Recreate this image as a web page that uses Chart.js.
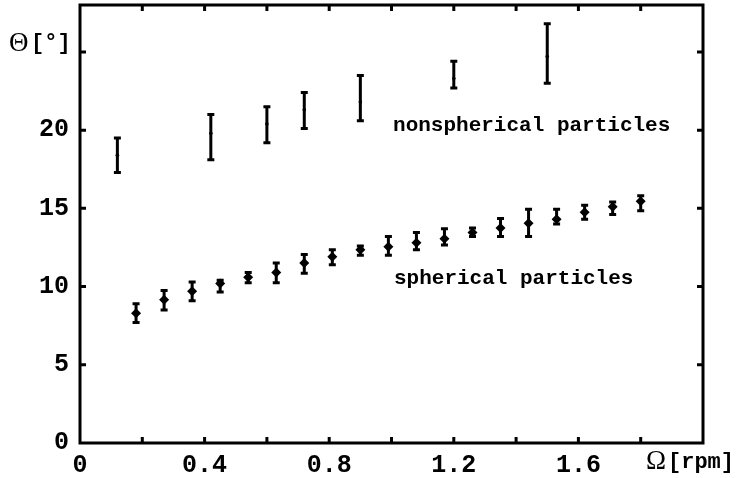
<!DOCTYPE html>
<html>
<head>
<meta charset="utf-8">
<script src="https://cdn.jsdelivr.net/npm/chart.js@4.4.0/dist/chart.umd.min.js"></script>
<style>
  html, body { margin: 0; padding: 0; background: #fff; }
  #wrap { width: 738px; height: 478px; }
</style>
</head>
<body>
<div id="wrap"><canvas id="chart"></canvas></div>
<script>
// nonspherical particles: rotation rate, angle, error bar ends
const nsOmega = [0.12, 0.42, 0.60, 0.72, 0.90, 1.20, 1.50];
const nsTheta = [18.4, 19.8, 20.4, 21.3, 21.8, 23.3, 24.7];
const nsLow   = [17.3, 18.1, 19.2, 20.1, 20.6, 22.7, 23.0];
const nsHigh  = [19.5, 21.0, 21.5, 22.4, 23.5, 24.4, 26.8];

// spherical particles
const spOmega = [0.18, 0.27, 0.36, 0.45, 0.54, 0.63, 0.72, 0.81, 0.90, 0.99,
                 1.08, 1.17, 1.26, 1.35, 1.44, 1.53, 1.62, 1.71, 1.80];
const spTheta = [8.3, 9.15, 9.7, 10.2, 10.6, 10.9, 11.5, 11.9, 12.35, 12.55,
                 12.8, 13.05, 13.45, 13.75, 14.05, 14.3, 14.75, 15.1, 15.45];
const spLow   = [7.7, 8.5, 9.1, 9.65, 10.25, 10.25, 10.85, 11.4, 12.0, 12.0,
                 12.35, 12.65, 13.2, 13.2, 13.2, 14.0, 14.3, 14.6, 14.85];
const spHigh  = [8.9, 9.75, 10.3, 10.4, 10.9, 11.5, 12.05, 12.35, 12.6, 13.2,
                 13.45, 13.7, 13.75, 14.35, 14.95, 14.95, 15.2, 15.4, 15.8];

// axis ticks
const xLabelled = [0, 0.4, 0.8, 1.2, 1.6];
const yLabelled = [0, 5, 10, 15, 20];

// curve labels (in data units)
const curveLabels = [
  { text: 'nonspherical particles', x: 1.005, y: 20.3 },
  { text: 'spherical particles', x: 1.008, y: 10.5 }
];

const MONO = '"Liberation Mono", "Courier New", monospace';

function toPoints(xs, ys) {
  return xs.map((x, i) => ({ x: x, y: ys[i] }));
}

const errorBars = [
  { low: nsLow, high: nsHigh, xs: nsOmega, cap: 3.5 },
  { low: spLow, high: spHigh, xs: spOmega, cap: 3.5 }
];

// vertical error bars with caps
const errorBarPlugin = {
  id: 'errorBars',
  beforeDatasetsDraw(chart) {
    const ctx = chart.ctx;
    const xs = chart.scales.x, ys = chart.scales.y;
    ctx.save();
    ctx.strokeStyle = '#000';
    ctx.lineWidth = 3;
    errorBars.forEach(eb => {
      eb.xs.forEach((xv, i) => {
        const px = xs.getPixelForValue(xv);
        const top = ys.getPixelForValue(eb.high[i]);
        const bot = ys.getPixelForValue(eb.low[i]);
        ctx.beginPath();
        ctx.moveTo(px, top); ctx.lineTo(px, bot);
        ctx.moveTo(px - eb.cap, top); ctx.lineTo(px + eb.cap, top);
        ctx.moveTo(px - eb.cap, bot); ctx.lineTo(px + eb.cap, bot);
        ctx.stroke();
      });
    });
    ctx.restore();
  }
};

// box frame with inward ticks on all four sides, plus axis titles and curve labels
const framePlugin = {
  id: 'frame',
  afterDraw(chart) {
    const ctx = chart.ctx;
    const a = chart.chartArea;
    const xs = chart.scales.x, ys = chart.scales.y;
    ctx.save();
    ctx.strokeStyle = '#000';
    ctx.lineWidth = 3;
    ctx.strokeRect(a.left, a.top, a.right - a.left, a.bottom - a.top);
    const tl = 6;
    ctx.beginPath();
    xs.ticks.forEach(t => {
      if (t.value <= xs.min + 1e-6 || t.value >= xs.max - 1e-6) return;
      const px = xs.getPixelForValue(t.value);
      ctx.moveTo(px, a.bottom); ctx.lineTo(px, a.bottom - tl);
      ctx.moveTo(px, a.top); ctx.lineTo(px, a.top + tl);
    });
    ys.ticks.forEach(t => {
      if (t.value <= ys.min + 1e-6 || t.value >= ys.max - 1e-6) return;
      const py = ys.getPixelForValue(t.value);
      ctx.moveTo(a.left, py); ctx.lineTo(a.left + tl, py);
      ctx.moveTo(a.right, py); ctx.lineTo(a.right - tl, py);
    });
    ctx.stroke();

    ctx.fillStyle = '#000';
    ctx.textBaseline = 'middle';
    ctx.textAlign = 'left';
    ctx.font = 'bold 21px ' + MONO;
    curveLabels.forEach(l => {
      ctx.fillText(l.text, xs.getPixelForValue(l.x), ys.getPixelForValue(l.y));
    });

    // y axis title, just above the 25 tick
    const yTitleY = ys.getPixelForValue(25) - 8;
    ctx.font = '27px "Liberation Serif", serif';
    ctx.fillText('\u0398', 9, yTitleY);
    ctx.font = 'bold 22px ' + MONO;
    ctx.fillText('[\u00b0]', 31, yTitleY);

    // x axis title, right of the 1.6 label
    const xTitleY = a.bottom + 19;
    ctx.font = '27px "Liberation Serif", serif';
    ctx.fillText('\u03a9', 646, xTitleY);
    ctx.font = 'bold 22px ' + MONO;
    ctx.fillText('[rpm]', 668, xTitleY);
    ctx.restore();
  }
};

new Chart(document.getElementById('chart'), {
  type: 'scatter',
  data: {
    datasets: [
      {
        label: 'nonspherical particles',
        data: toPoints(nsOmega, nsTheta),
        pointStyle: 'circle',
        pointRadius: 1.8,
        backgroundColor: '#000',
        borderColor: '#000',
        borderWidth: 0
      },
      {
        label: 'spherical particles',
        data: toPoints(spOmega, spTheta),
        pointStyle: 'rectRot',
        pointRadius: 5,
        backgroundColor: '#000',
        borderColor: '#000',
        borderWidth: 0
      }
    ]
  },
  options: {
    responsive: true,
    maintainAspectRatio: false,
    animation: false,
    layout: { padding: { top: 4, right: 35, left: 0, bottom: 0 } },
    plugins: {
      legend: { display: false },
      tooltip: { enabled: false }
    },
    scales: {
      x: {
        type: 'linear',
        min: 0,
        max: 2.0,
        grid: { display: false, drawTicks: false },
        border: { display: false },
        afterFit(scale) {
          scale.height = 35;
          scale.paddingLeft = 0;
          scale.paddingRight = 0;
        },
        ticks: {
          stepSize: 0.2,
          includeBounds: false,
          maxRotation: 0,
          autoSkip: false,
          padding: 8,
          color: '#000',
          font: { family: MONO, size: 25, weight: 'bold' },
          callback: function(value) {
            const v = Math.round(value * 10) / 10;
            if (!xLabelled.includes(v)) return '';
            return v === 0 ? '0' : v.toFixed(1);
          }
        }
      },
      y: {
        min: 0,
        max: 28,
        grid: { display: false, drawTicks: false },
        border: { display: false },
        afterFit(scale) {
          scale.width = 80;
          scale.paddingTop = 0;
          scale.paddingBottom = 0;
        },
        ticks: {
          stepSize: 5,
          includeBounds: false,
          padding: 11,
          color: '#000',
          font: { family: MONO, size: 25, weight: 'bold' },
          callback: function(value) {
            return yLabelled.includes(value) ? String(value) : '';
          }
        }
      }
    }
  },
  plugins: [errorBarPlugin, framePlugin]
});
</script>
</body>
</html>
